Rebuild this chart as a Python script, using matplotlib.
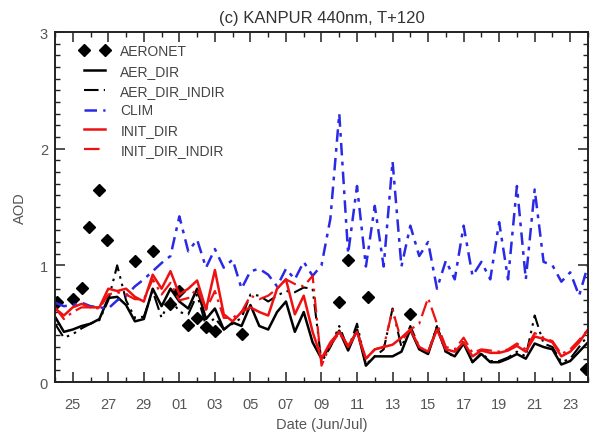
import matplotlib
matplotlib.use("Agg")
import matplotlib.pyplot as plt
import numpy as np

plt.rcParams["font.family"] = ["Liberation Sans", "DejaVu Sans"]

# days after 24 Jun, every 12 hours
days = np.arange(0, 30.5, 0.5)

clim = [0.68, 0.65, 0.66, 0.68, 0.65, 0.64, 0.63, 0.70, 0.74, 0.82,
        0.88, 0.95, 1.02, 1.08, 1.42, 1.12, 1.22, 0.98, 1.14, 0.98,
        1.05, 0.80, 0.95, 0.97, 0.92, 0.82, 0.97, 0.88, 1.03, 0.91,
        1.00, 1.40, 2.30, 1.10, 1.68, 0.99, 1.51, 0.99, 1.89, 0.99,
        1.34, 1.08, 1.20, 0.80, 1.04, 0.88, 1.34, 0.91, 1.03, 0.88,
        1.37, 0.88, 1.68, 0.88, 1.65, 1.03, 1.00, 0.86, 0.94, 0.74,
        1.00]

aer_dir = [0.56, 0.43, 0.45, 0.48, 0.50, 0.54, 0.72, 0.73, 0.66, 0.52,
           0.54, 0.80, 0.65, 0.80, 0.69, 0.63, 0.80, 0.54, 0.63, 0.45,
           0.51, 0.48, 0.66, 0.48, 0.45, 0.60, 0.69, 0.43, 0.60, 0.34,
           0.20, 0.31, 0.44, 0.27, 0.45, 0.14, 0.22, 0.22, 0.22, 0.26,
           0.45, 0.28, 0.24, 0.47, 0.26, 0.22, 0.33, 0.17, 0.24, 0.17,
           0.17, 0.20, 0.24, 0.20, 0.33, 0.30, 0.28, 0.15, 0.18, 0.26,
           0.34]

aer_dir_indir = [0.50, 0.38, 0.41, 0.46, 0.50, 0.53, 0.70, 1.00, 0.70, 0.55,
                 0.56, 0.78, 0.55, 0.72, 0.60, 0.58, 0.75, 0.48, 0.55, 0.45,
                 0.50, 0.55, 0.75, 0.74, 0.69, 0.74, 0.78, 0.77, 0.81, 0.80,
                 0.17, 0.30, 0.48, 0.28, 0.50, 0.15, 0.22, 0.28, 0.63, 0.30,
                 0.48, 0.30, 0.25, 0.48, 0.25, 0.22, 0.35, 0.17, 0.25, 0.18,
                 0.18, 0.21, 0.26, 0.22, 0.57, 0.33, 0.30, 0.17, 0.20, 0.30,
                 0.40]

init_dir = [0.63, 0.57, 0.64, 0.67, 0.64, 0.64, 0.80, 0.78, 0.80, 0.73,
            0.69, 0.92, 0.80, 0.95, 0.75, 0.80, 0.87, 0.62, 0.96, 0.58,
            0.52, 0.60, 0.64, 0.60, 0.57, 0.80, 0.88, 0.58, 0.74, 0.43,
            0.20, 0.34, 0.43, 0.31, 0.43, 0.20, 0.28, 0.30, 0.32, 0.38,
            0.45, 0.30, 0.26, 0.45, 0.28, 0.26, 0.34, 0.22, 0.27, 0.25,
            0.25, 0.27, 0.31, 0.26, 0.39, 0.37, 0.34, 0.22, 0.26, 0.34,
            0.45]

init_dir_indir = [0.64, 0.54, 0.60, 0.64, 0.64, 0.63, 0.75, 0.77, 0.75, 0.71,
                  0.71, 0.88, 0.75, 0.85, 0.70, 0.72, 0.80, 0.62, 0.78, 0.55,
                  0.55, 0.60, 0.74, 0.71, 0.74, 0.80, 0.88, 0.84, 0.82, 0.91,
                  0.14, 0.32, 0.42, 0.30, 0.42, 0.20, 0.28, 0.30, 0.62, 0.35,
                  0.45, 0.50, 0.72, 0.50, 0.30, 0.28, 0.38, 0.25, 0.28, 0.27,
                  0.26, 0.28, 0.33, 0.28, 0.42, 0.38, 0.35, 0.24, 0.28, 0.36,
                  0.45]

aeronet_day = [0.1, 1.0, 1.5, 1.9, 2.5, 2.9, 4.5, 5.5, 6.5, 7.0, 7.5, 8.0,
               8.5, 9.0, 10.5, 16.0, 16.5, 17.6, 20.0, 29.9]
aeronet_aod = [0.69, 0.71, 0.81, 1.33, 1.65, 1.22, 1.04, 1.12, 0.67, 0.78,
               0.49, 0.55, 0.47, 0.44, 0.41, 0.69, 1.05, 0.73, 0.58, 0.11]

tick_days = list(range(1, 30, 2))
tick_labels = ["25", "27", "29", "01", "03", "05", "07", "09",
               "11", "13", "15", "17", "19", "21", "23"]

fig = plt.figure(figsize=(5.9, 4.35), dpi=100)
ax = fig.add_axes([0.0932, 0.1195, 0.9034, 0.8046])

ax.plot(aeronet_day, aeronet_aod, "D", color="black", markersize=6.5,
        linestyle="none", label="AERONET")
ax.plot(days, aer_dir, color="black", lw=1.8, label="AER_DIR")
ax.plot(days, aer_dir_indir, color="black", lw=1.5,
        dashes=(7, 2.5, 1.2, 2.5, 1.2, 2.5), label="AER_DIR_INDIR")
ax.plot(days, clim, color="#2a2ae6", lw=1.8, dashes=(5, 2.5, 1.5, 2.5),
        label="CLIM")
ax.plot(days, init_dir, color="#ee1111", lw=1.8, label="INIT_DIR")
ax.plot(days, init_dir_indir, color="#ee1111", lw=1.6,
        dashes=(7, 2.5, 1.2, 2.5), label="INIT_DIR_INDIR")

ax.set_xlim(0, 30)
ax.set_ylim(0, 3)
ax.set_xticks(tick_days)
ax.set_xticklabels(tick_labels)
ax.set_xticks(np.arange(0, 31, 1), minor=True)
ax.set_yticks([0, 1, 2, 3])
ax.set_yticks(np.arange(0, 3.01, 0.1), minor=True)
ax.tick_params(which="both", direction="in", top=True, right=True,
               colors="#222222", labelcolor="#555555", labelsize=10.5)
ax.tick_params(which="major", length=7, width=1.1)
ax.tick_params(which="minor", length=3.5, width=1.0)
ax.tick_params(axis="x", pad=11)
ax.tick_params(axis="y", pad=5)
for s in ax.spines.values():
    s.set_linewidth(1.4)
    s.set_color("#222222")

ax.set_title("(c) KANPUR 440nm, T+120", fontsize=12, color="#333333", pad=7)
ax.set_xlabel("Date (Jun/Jul)", fontsize=10.5, color="#555555", labelpad=4)
ax.set_ylabel("AOD", fontsize=10.5, color="#555555", labelpad=9)

leg = ax.legend(loc="upper left", frameon=False, numpoints=2, fontsize=10,
                handlelength=2.1, handletextpad=0.8, labelspacing=0.42,
                borderpad=0, borderaxespad=0, bbox_to_anchor=(0.047, 0.966))
for t in leg.get_texts():
    t.set_color("#444444")

fig.savefig("out.png", dpi=100)
